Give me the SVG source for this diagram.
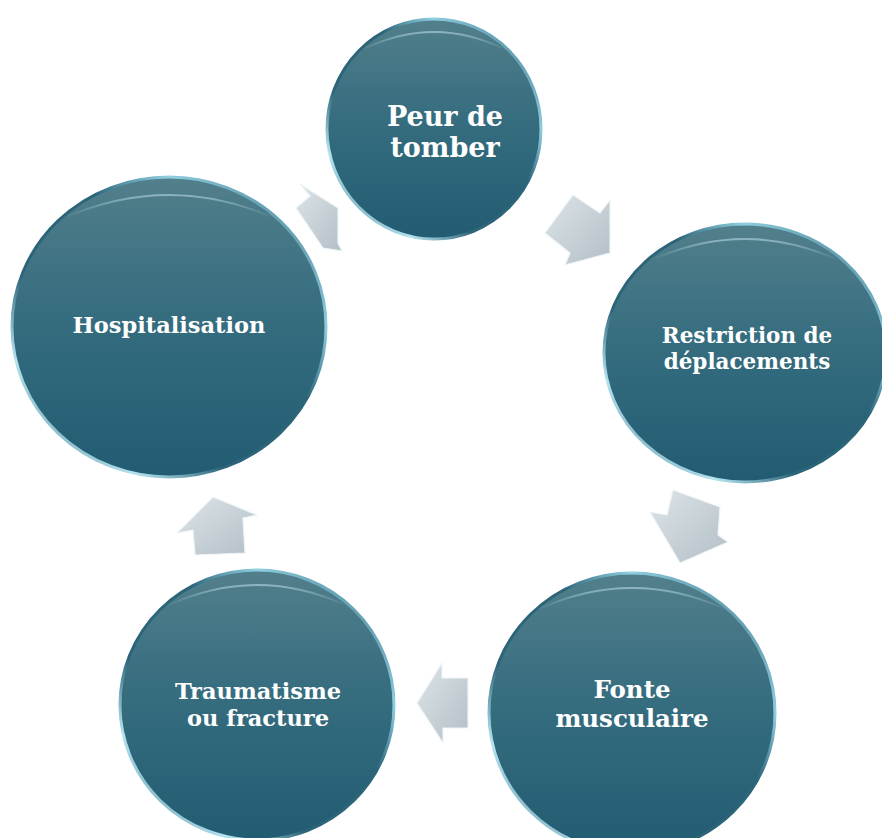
<svg xmlns="http://www.w3.org/2000/svg" width="882" height="838" viewBox="0 0 882 838">
<defs>
<linearGradient id="ball" x1="0" y1="0" x2="0" y2="1">
<stop offset="0" stop-color="#527f8b"/>
<stop offset="0.45" stop-color="#366d7f"/>
<stop offset="1" stop-color="#225c72"/>
</linearGradient>
<linearGradient id="rim" x1="1" y1="0" x2="0" y2="1">
<stop offset="0" stop-color="#2b6479"/>
<stop offset="0.25" stop-color="#8fcfe0"/>
<stop offset="0.4" stop-color="#2c657a"/>
<stop offset="0.65" stop-color="#2c657a"/>
<stop offset="0.8" stop-color="#b5e3ef"/>
<stop offset="1" stop-color="#2b6479"/>
</linearGradient>
<linearGradient id="gloss" x1="0" y1="0" x2="0" y2="1">
<stop offset="0" stop-color="#bfe3ee" stop-opacity="0.55"/>
<stop offset="1" stop-color="#bfe3ee" stop-opacity="0"/>
</linearGradient>
<linearGradient id="arr" x1="0" y1="0" x2="1" y2="1">
<stop offset="0" stop-color="#dde4e8"/>
<stop offset="1" stop-color="#b2bfc6"/>
</linearGradient>
<style>
.ball{fill:url(#ball);stroke:url(#rim);stroke-width:3}
.gl{fill:none;stroke:url(#gloss);stroke-width:2}
.lbl{fill:#ffffff;font-family:"DejaVu Serif","Liberation Serif",serif;font-weight:bold;text-anchor:middle}
.arrow{fill:url(#arr);stroke:#eef5f8;stroke-width:1.2;stroke-linejoin:round}
</style>
</defs>
<rect width="882" height="838" fill="#ffffff"/>
<g id="connectors">
<polygon class="arrow" points="300,184 319,196 338,208 338,243 342,251 323,248 296,208 310,196"/>
<polygon class="arrow" points="573,195 600,213 610,200 610,253 565,265 570,253 545,233"/>
<polygon class="arrow" points="673,490 720,507 718,535 728,542 680,563 650,512 667,515"/>
<polygon class="arrow" points="442,663 442,678 468,678 468,728 443,728 443,743 417,703"/>
<polygon class="arrow" points="213,497 257,515 243,518 245,553 195,555 193,530 177,533"/>
</g>
<g id="node-peur">
<ellipse class="ball" cx="434" cy="129" rx="107" ry="110"/>
<path class="gl" d="M362,50 Q434,14 506,50"/>
<text class="lbl" font-size="27" x="445" y="126">Peur de</text>
<text class="lbl" font-size="27" x="445" y="157">tomber</text>
</g>
<g id="node-restriction">
<ellipse class="ball" cx="745" cy="353" rx="141" ry="129"/>
<path class="gl" d="M652,260 Q745,218 838,260"/>
<text class="lbl" font-size="21.5" x="747" y="343">Restriction de</text>
<text class="lbl" font-size="21.5" x="747" y="369">déplacements</text>
</g>
<g id="node-fonte">
<ellipse class="ball" cx="632" cy="713" rx="143" ry="140"/>
<path class="gl" d="M537,610 Q632,566 727,610"/>
<text class="lbl" font-size="24.5" x="632" y="698">Fonte</text>
<text class="lbl" font-size="24.5" x="632" y="727">musculaire</text>
</g>
<g id="node-traumatisme">
<ellipse class="ball" cx="257" cy="705" rx="137" ry="135"/>
<path class="gl" d="M167,606 Q257,564 347,606"/>
<text class="lbl" font-size="22.5" x="258" y="699">Traumatisme</text>
<text class="lbl" font-size="22.5" x="258" y="726">ou fracture</text>
</g>
<g id="node-hospitalisation">
<ellipse class="ball" cx="169" cy="327" rx="157" ry="150"/>
<path class="gl" d="M64,218 Q169,172 274,218"/>
<text class="lbl" font-size="22.5" x="169" y="333">Hospitalisation</text>
</g>
</svg>
